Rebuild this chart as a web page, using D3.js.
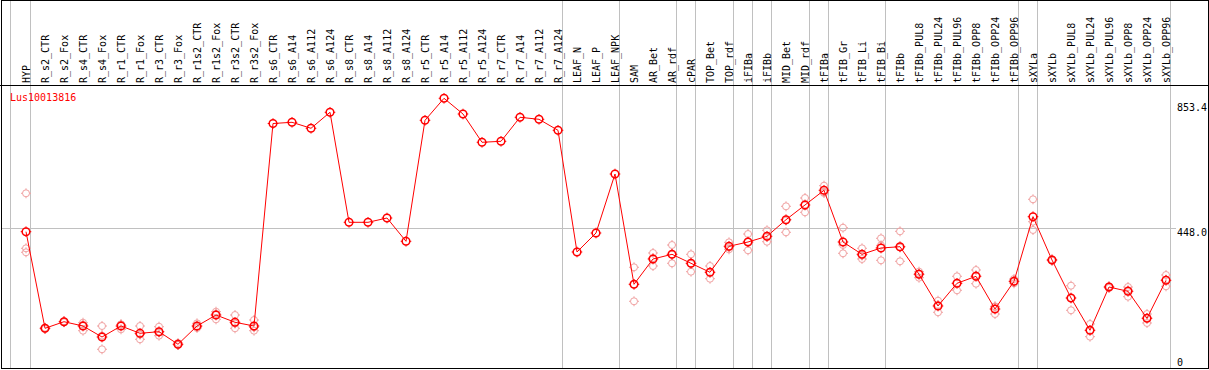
<!DOCTYPE html>
<html lang="en">
  <head>
    <meta charset="utf-8">
    <title>Lus10013816</title>
    <script src="https://cdn.jsdelivr.net/npm/d3@7"></script>
    <style type="text/css">
      html, body {
        margin: 0; padding: 0;
        background: #fff;
      }
      text {
        font-family: "DejaVu Sans Mono", monospace;
        font-size: 10px;
      }
    </style>
  </head>

  <body>
    <svg width="1209" height="370"></svg>

    <script type="text/javascript">

      var geneName = "Lus10013816";

      var categories = ["HYP", "R_s2_CTR", "R_s2_Fox", "R_s4_CTR", "R_s4_Fox", "R_r1_CTR", "R_r1_Fox",
        "R_r3_CTR", "R_r3_Fox", "R_r1s2_CTR", "R_r1s2_Fox", "R_r3s2_CTR", "R_r3s2_Fox",
        "R_s6_CTR", "R_s6_A14", "R_s6_A112", "R_s6_A124", "R_s8_CTR", "R_s8_A14", "R_s8_A112", "R_s8_A124",
        "R_r5_CTR", "R_r5_A14", "R_r5_A112", "R_r5_A124", "R_r7_CTR", "R_r7_A14", "R_r7_A112", "R_r7_A124",
        "LEAF_N", "LEAF_P", "LEAF_NPK", "SAM", "AR_Bet", "AR_rdf", "cPAR", "TOP_Bet", "TOP_rdf",
        "iFIBa", "iFIBb", "MID_Bet", "MID_rdf", "tFIBa", "tFIB_Gr", "tFIB_Li", "tFIB_Bi",
        "tFIBb", "tFIBb_PUL8", "tFIBb_PUL24", "tFIBb_PUL96", "tFIBb_OPP8", "tFIBb_OPP24", "tFIBb_OPP96",
        "sXYLa", "sXYLb", "sXYLb_PUL8", "sXYLb_PUL24", "sXYLb_PUL96", "sXYLb_OPP8", "sXYLb_OPP24", "sXYLb_OPP96"];

      // mean expression per sample
      var means = [437.4, 136.2, 156.7, 143.3, 109.0, 143.3, 120.6,
        125.6, 86.3, 143.3, 177.6, 154.9, 143.3,
        774.8, 778.6, 759.9, 809.8, 466.7, 466.7, 480.1, 407.5,
        784.8, 853.4, 804.4, 716.2, 719.3, 794.2, 787.9, 753.6,
        374.1, 433.3, 617.3, 273.4, 352.3, 366.9, 338.9, 310.8, 391.9,
        405.3, 423.1, 474.8, 520.7, 566.5, 405.3, 366.9, 386.6,
        390.6, 304.6, 205.7, 276.5, 298.3, 196.3, 282.7,
        484.2, 349.1, 230.6, 129.9, 264.9, 251.5, 167.3, 285.8];

      // individual replicates (empty where only one value)
      var replicates = [[557.2, 385.6, 373.2], [136, 134, 138], [157, 155, 158], [153.6, 128.7, 147], [143.3, 70.7, 113], [148.6, 133, 148], [143.3, 101.9, 116.6],
        [141.1, 113.1, 122.6], [90.3, 84.1, 84.5], [151.7, 141.1, 137], [187.9, 164.2, 180.7], [177.6, 136.2, 151], [162, 128.7, 139],
        [], [], [], [], [], [], [], [],
        [], [], [], [], [], [], [], [],
        [], [], [], [326.4, 220.4, 273], [371, 330.4, 355], [395.9, 338.9, 366], [366.9, 312.7, 337], [330.4, 290.8, 311], [404.3, 382.5, 389],
        [430.2, 379.4, 406], [441.8, 406.2, 421], [516.6, 435.5, 472], [542.5, 497.9, 521], [580.9, 560.3, 558], [449.9, 370, 396], [385.6, 352.3, 362.8], [416.8, 348.2, 394.8],
        [438.6, 345.1, 388], [312.7, 293.9, 307], [222.2, 186.1, 208.8], [298.3, 254.7, 276.5], [318, 275.2, 301.7], [203.5, 180.7, 204.7], [289.9, 276.5, 281.7],
        [538.4, 468.6, 442.7], [349, 347, 351], [269, 192.3, 230.5], [149.6, 110, 130], [267.1, 262, 265], [264.9, 234.7, 255], [180.7, 152.7, 168.5], [302.4, 267.1, 288]];

      // last sample of each tissue group (gray separators)
      var groupEnds = ["HYP", "R_r7_A124", "LEAF_NPK", "AR_rdf", "cPAR", "TOP_rdf", "iFIBa", "iFIBb",
        "MID_rdf", "tFIBa", "tFIB_Bi", "tFIBb_OPP96", "sXYLa", "sXYLb_OPP96"];

      var yMin = 42.6, yMax = 853.4, yMid = 448.0;
      var tickValues = [853.4, 448.0, 42.6];
      var tickLabels = ["853.4", "448.0", "0"];

      var w = 1209, h = 370;
      var bottom = 368.5, headerY = 85.5;

      var x = d3.scaleBand()
                .domain(categories)
                .range([11.7, 11.7 + 19 * categories.length]);
      var px = function(c) { return x(c) + 14.3; };

      var y = d3.scaleLinear()
                .domain([yMin, yMax])
                .range([358.3, 98.3]);

      var svg = d3.select("svg");

      svg.append("rect")
         .attr("width", w).attr("height", h)
         .attr("fill", "#fff");

      // gray grid
      var gridG = svg.append("g")
                     .attr("stroke", "#c0c0c0")
                     .attr("stroke-width", 1)
                     .attr("shape-rendering", "crispEdges");

      gridG.append("line")
           .attr("x1", x.range()[0] - 1).attr("x2", x.range()[0] - 1)
           .attr("y1", 0).attr("y2", bottom);

      gridG.selectAll("line.sep")
           .data(groupEnds)
           .enter()
           .append("line")
           .attr("class", "sep")
           .attr("x1", function(d) { return x(d) + x.bandwidth(); })
           .attr("x2", function(d) { return x(d) + x.bandwidth(); })
           .attr("y1", 0).attr("y2", bottom);

      gridG.append("line")
           .attr("x1", 1.5).attr("x2", 1176)
           .attr("y1", Math.round(y(yMid)) + 0.5)
           .attr("y2", Math.round(y(yMid)) + 0.5);

      // column labels
      svg.append("g")
         .selectAll("text")
         .data(categories)
         .enter()
         .append("text")
         .attr("transform", function(d) { return "translate(" + (px(d) + 3.5) + ",83) rotate(-90)"; })
         .attr("fill", "#000")
         .text(function(d) { return d; });

      // header rule and frame
      svg.append("line")
         .attr("x1", 0).attr("x2", w)
         .attr("y1", headerY).attr("y2", headerY)
         .attr("stroke", "#000")
         .attr("shape-rendering", "crispEdges");

      svg.append("rect")
         .attr("x", 1.5).attr("y", 0.5)
         .attr("width", 1207).attr("height", bottom - 0.5)
         .attr("fill", "none")
         .attr("stroke", "#000")
         .attr("shape-rendering", "crispEdges");

      // gene name
      svg.append("text")
         .attr("x", 10).attr("y", 100.5)
         .attr("fill", "#ff0000")
         .text(geneName);

      // value labels on the right
      svg.append("g")
         .selectAll("text")
         .data(tickValues)
         .enter()
         .append("text")
         .attr("x", 1177)
         .attr("y", function(d, i) { return y(d) + (i == 0 ? 12.7 : 7.5); })
         .attr("fill", "#000")
         .text(function(d, i) { return tickLabels[i]; });

      // marker: ring with four small ticks
      function marker(g, r, color, sw) {
        g.append("circle")
         .attr("r", r)
         .attr("fill", "none")
         .attr("stroke", color)
         .attr("stroke-width", sw);
        g.append("path")
         .attr("d", "M0," + (-r - 1.5) + "V" + (-r) + "M0," + r + "V" + (r + 1.5) +
                    "M" + (-r - 1.5) + ",0H" + (-r) + "M" + r + ",0H" + (r + 1.5))
         .attr("stroke", color)
         .attr("stroke-width", 1);
      }

      // replicates
      var repData = [];
      replicates.forEach(function(reps, i) {
        reps.forEach(function(v) { repData.push({ c: categories[i], v: v }); });
      });

      svg.append("g")
         .selectAll("g")
         .data(repData)
         .enter()
         .append("g")
         .attr("transform", function(d) { return "translate(" + px(d.c) + "," + y(d.v) + ")"; })
         .each(function() { marker(d3.select(this), 3.5, "#f0a0a0", 1); });

      // mean line
      var line = d3.line()
                   .x(function(d, i) { return px(categories[i]); })
                   .y(function(d) { return y(d); });

      svg.append("path")
         .datum(means)
         .attr("d", line)
         .attr("fill", "none")
         .attr("stroke", "#ff0000")
         .attr("stroke-width", 1);

      svg.append("g")
         .selectAll("g")
         .data(means)
         .enter()
         .append("g")
         .attr("transform", function(d, i) { return "translate(" + px(categories[i]) + "," + y(d) + ")"; })
         .each(function() { marker(d3.select(this), 3.8, "#ff0000", 1.5); });

    </script>
  </body>
</html>
